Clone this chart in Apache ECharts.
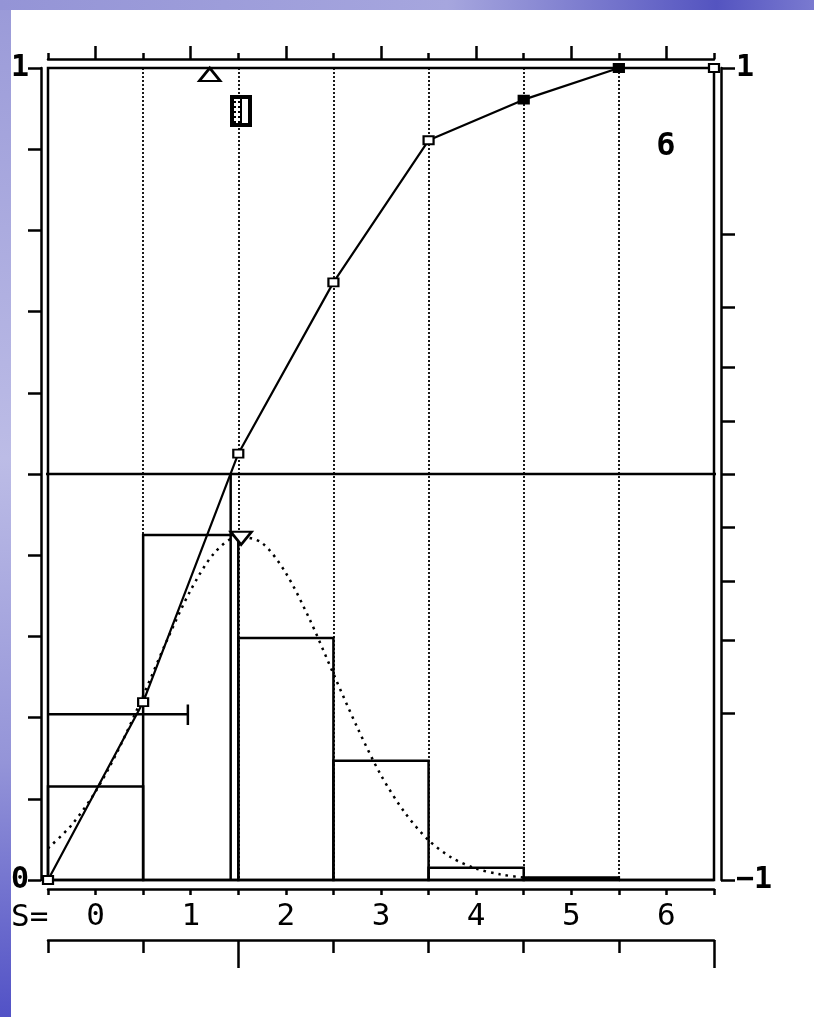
<!DOCTYPE html>
<html>
<head>
<meta charset="utf-8">
<script src="https://cdn.jsdelivr.net/npm/echarts@6/dist/echarts.min.js"></script>
<style>
html,body{margin:0;padding:0;background:#fff;}
#chart{width:814px;height:1017px;}
</style>
</head>
<body>
<div id="chart"></div>
<script>
// ---- data ----
const xTickLabels = [0, 1, 2, 3, 4, 5, 6];
const binCenters = [0, 1, 2, 3, 4, 5, 6];
const binHeights = [0.115, 0.425, 0.298, 0.147, 0.015, 0.003, 0];
const cumX = [-0.5, 0.5, 1.5, 2.5, 3.5, 4.5, 5.5, 6.5];
const cumY = [0, 0.219, 0.525, 0.736, 0.911, 0.961, 1.0, 1.0];
const cumSolidIdx = [5, 6];
const curveX = [-0.5, -0.25, 0, 0.25, 0.5, 0.75, 1, 1.25, 1.5, 1.75, 2, 2.25, 2.5, 2.75, 3, 3.25, 3.5, 3.75, 4, 4.25, 4.5, 4.7];
const curveY = [0.039, 0.068, 0.109, 0.163, 0.227, 0.295, 0.357, 0.403, 0.423, 0.415, 0.378, 0.321, 0.254, 0.188, 0.129, 0.083, 0.049, 0.027, 0.014, 0.007, 0.003, 0.001];
const medianX = [1.42, 1.42];
const medianY = [0.5, 0];
const halfLineX = [-0.71, 6.71];
const halfLineY = [0.5, 0.5];
const errBarX = [-0.5, 0.97];
const errBarY = [0.204, 0.204];
const errCapX = [0.97, 0.97];
const errCapY = [0.191, 0.216];
const meanMark = [1.2, 0.992];
const peakMark = [1.53, 0.421];
const gaugeMark = [1.53, 0.947];
const leftLabels = [0, 1];
const rightTicks = [-1, -0.59, -0.41, -0.264, -0.13, 0, 0.13, 0.264, 0.41, 0.59, 1];
const rightLabels = [-1, 1];
const lowerLongTicks = [1.5, 6.5];
const panelLabel = '6';
const axisName = 'S=';

const FONT = '"DejaVu Sans Mono", "Liberation Mono", monospace';
const LW = 2.5;
const chart = echarts.init(document.getElementById('chart'));

const pairs = (xs, ys) => xs.map((x, i) => [x, ys[i]]);
const lineBase = { type: 'line', xAxisIndex: 0, yAxisIndex: 0, symbol: 'none', silent: true, animation: false };
const noLine = { show: false, onZero: false };
const blackLine = { show: true, onZero: false, lineStyle: { color: '#000', width: LW } };

const option = {
  animation: false,
  backgroundColor: '#fff',
  grid: { left: 48, right: 100, top: 68, bottom: 137, show: true, borderColor: '#000', borderWidth: LW, backgroundColor: '#fff' },
  xAxis: [
    { // 0: main bottom axis with labels
      type: 'value', min: -0.5, max: 6.5, interval: 0.5, position: 'bottom', offset: 9,
      axisLine: blackLine,
      axisTick: { show: true, length: 6, lineStyle: { color: '#000', width: LW } },
      axisLabel: { show: true, customValues: xTickLabels, margin: 12, color: '#000', fontSize: 31, fontFamily: FONT,
                   formatter: v => String(v) },
      splitLine: { show: false }
    },
    { // 1: top axis short ticks
      type: 'value', min: -0.5, max: 6.5, interval: 0.5, position: 'top', offset: 9,
      axisLine: blackLine,
      axisTick: { show: true, length: 6, lineStyle: { color: '#000', width: LW } },
      axisLabel: { show: false }, splitLine: { show: false }
    },
    { // 2: top axis long ticks at integers
      type: 'value', min: -0.5, max: 6.5, position: 'top', offset: 9,
      axisLine: noLine,
      axisTick: { show: true, customValues: xTickLabels, length: 13, lineStyle: { color: '#000', width: LW } },
      axisLabel: { show: false }, splitLine: { show: false }
    },
    { // 3: dotted grid at bin edges
      type: 'value', min: -0.5, max: 6.5, interval: 1, position: 'bottom', offset: 0,
      axisLine: noLine, axisTick: { show: false }, axisLabel: { show: false },
      splitLine: { show: true, lineStyle: { color: '#000', width: 1.8, type: [2, 2] } }
    },
    { // 4: lower axis
      type: 'value', min: -0.5, max: 6.5, interval: 1, position: 'bottom', offset: 60,
      axisLine: blackLine,
      axisTick: { show: true, length: 13, lineStyle: { color: '#000', width: LW } },
      axisLabel: { show: false }, splitLine: { show: false }
    },
    { // 5: lower axis long ticks
      type: 'value', min: -0.5, max: 6.5, position: 'bottom', offset: 60,
      axisLine: noLine,
      axisTick: { show: true, customValues: lowerLongTicks, length: 28, lineStyle: { color: '#000', width: LW } },
      axisLabel: { show: false }, splitLine: { show: false }
    }
  ],
  yAxis: [
    { // 0: left 0..1
      type: 'value', min: 0, max: 1, interval: 0.1, position: 'left', offset: 7,
      axisLine: blackLine,
      axisTick: { show: true, length: 13, lineStyle: { color: '#000', width: LW } },
      axisLabel: { show: true, customValues: leftLabels, margin: 12, color: '#000', fontSize: 30, fontWeight: 'bold', fontFamily: FONT,
                   formatter: v => String(v) },
      splitLine: { show: false }
    },
    { // 1: right -1..1
      type: 'value', min: -1, max: 1, position: 'right', offset: 7,
      axisLine: blackLine,
      axisTick: { show: true, customValues: rightTicks, length: 14, lineStyle: { color: '#000', width: LW } },
      axisLabel: { show: true, customValues: rightLabels, margin: 15, color: '#000', fontSize: 30, fontWeight: 'bold', fontFamily: FONT,
                   formatter: v => (v < 0 ? '\u2212' : '') + Math.abs(v) },
      splitLine: { show: false }
    }
  ],
  graphic: [
    { type: 'rect', z: 100, shape: { x: 0, y: 0, width: 11, height: 1017 },
      style: { fill: new echarts.graphic.LinearGradient(0, 0, 0, 1, [
        { offset: 0, color: '#9a9ad8' }, { offset: 0.45, color: '#bcbce6' }, { offset: 0.75, color: '#9494d8' }, { offset: 1, color: '#5252c6' }]) } },
    { type: 'rect', z: 100, shape: { x: 0, y: 0, width: 814, height: 10 },
      style: { fill: new echarts.graphic.LinearGradient(0, 0, 1, 0, [
        { offset: 0, color: '#9494d6' }, { offset: 0.55, color: '#a6a6de' }, { offset: 0.88, color: '#5454c0' }, { offset: 1, color: '#7a7ad0' }]) } },
    { type: 'text', x: 11, y: 918, z: 50,
      style: { text: axisName, font: '31px ' + FONT, fill: '#000', verticalAlign: 'middle', align: 'left' } },
    { type: 'text', x: 666, y: 147, z: 50,
      style: { text: panelLabel, font: 'bold 32px ' + FONT, fill: '#000', verticalAlign: 'middle', align: 'center' } }
  ],
  series: [
    { // histogram bins
      type: 'custom', xAxisIndex: 0, yAxisIndex: 0, silent: true, z: 2,
      data: pairs(binCenters, binHeights),
      renderItem: (params, api) => {
        const c = api.value(0), v = api.value(1);
        const p0 = api.coord([c - 0.5, v]);
        const p1 = api.coord([c + 0.5, 0]);
        return { type: 'rect', shape: { x: p0[0], y: p0[1], width: p1[0] - p0[0], height: p1[1] - p0[1] },
                 style: { fill: 'none', stroke: '#000', lineWidth: LW } };
      }
    },
    Object.assign({}, lineBase, { z: 3, clip: false, data: pairs(halfLineX, halfLineY), lineStyle: { color: '#000', width: LW } }),
    Object.assign({}, lineBase, { z: 3, data: pairs(medianX, medianY), lineStyle: { color: '#000', width: LW } }),
    Object.assign({}, lineBase, { z: 3, smooth: 0.3, data: pairs(curveX, curveY), lineStyle: { color: '#000', width: 2.5, type: [2.5, 5] } }),
    Object.assign({}, lineBase, { z: 4, data: pairs(errBarX, errBarY), lineStyle: { color: '#000', width: LW } }),
    Object.assign({}, lineBase, { z: 4, data: pairs(errCapX, errCapY), lineStyle: { color: '#000', width: LW } }),
    { // cumulative
      type: 'line', xAxisIndex: 0, yAxisIndex: 0, z: 5, silent: true, clip: false,
      symbol: 'rect', symbolSize: [10, 8], showAllSymbol: true,
      lineStyle: { color: '#000', width: 2.2 },
      itemStyle: { color: '#fff', borderColor: '#000', borderWidth: 2 },
      data: cumX.map((x, i) => cumSolidIdx.includes(i)
        ? { value: [x, cumY[i]], itemStyle: { color: '#000', borderColor: '#000' } }
        : { value: [x, cumY[i]] })
    },
    { // markers
      type: 'scatter', xAxisIndex: 0, yAxisIndex: 0, z: 6, silent: true, clip: false,
      symbol: 'triangle', symbolSize: [21, 13],
      itemStyle: { color: '#fff', borderColor: '#000', borderWidth: 2.5, opacity: 1 },
      data: [ { value: meanMark }, { value: peakMark, symbolRotate: 180 } ]
    },
    { // gauge icon
      type: 'custom', xAxisIndex: 0, yAxisIndex: 0, silent: true, z: 6,
      data: [gaugeMark],
      renderItem: (params, api) => {
        const p = api.coord([api.value(0), api.value(1)]);
        const x = Math.round(p[0]), y = Math.round(p[1]);
        const kids = [
          { type: 'rect', shape: { x: x - 11, y: y - 16, width: 22, height: 32 }, style: { fill: '#000' } },
          { type: 'rect', shape: { x: x - 7, y: y - 12, width: 14, height: 24 }, style: { fill: '#fff' } },
          { type: 'rect', shape: { x: x - 1, y: y - 12, width: 2, height: 24 }, style: { fill: '#000' } }
        ];
        for (let k = 0; k < 5; k++) {
          kids.push({ type: 'rect', shape: { x: x - 7, y: y - 10 + k * 5, width: 2, height: 2 }, style: { fill: '#000' } });
          kids.push({ type: 'rect', shape: { x: x - 3, y: y - 10 + k * 5, width: 2, height: 2 }, style: { fill: '#000' } });
        }
        return { type: 'group', children: kids };
      }
    }
  ]
};
chart.setOption(option);
</script>
</body>
</html>
